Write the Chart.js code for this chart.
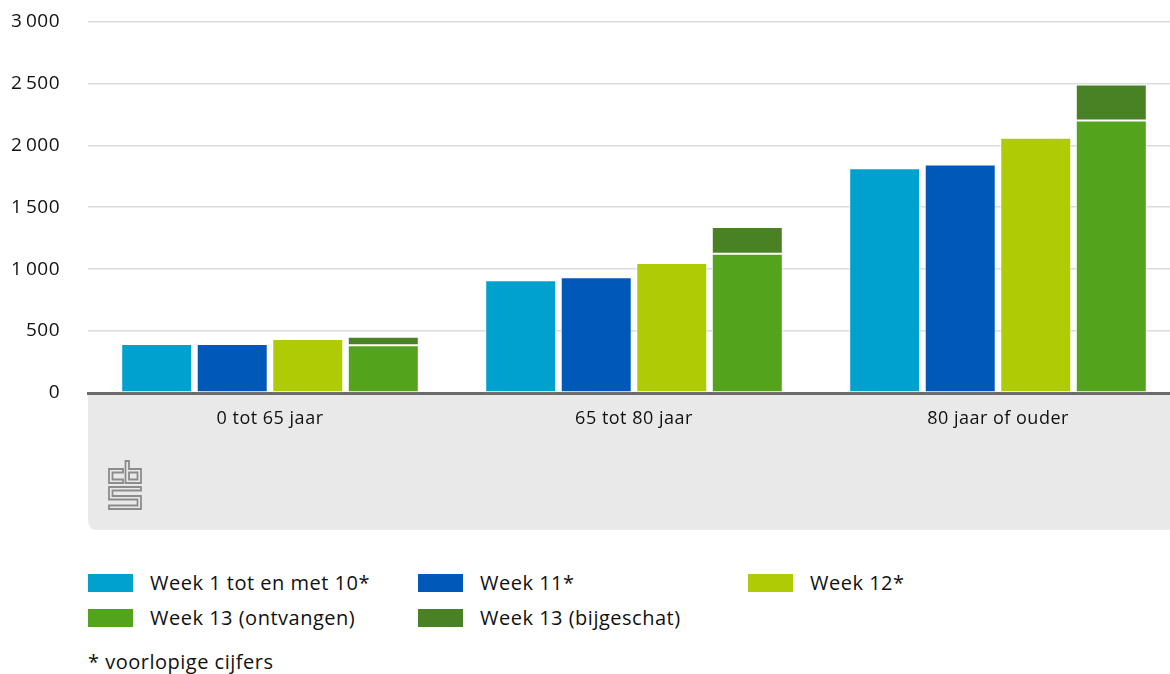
<!DOCTYPE html>
<html>
<head>
<meta charset="utf-8">
<script src="https://cdn.jsdelivr.net/npm/chart.js@4/dist/chart.umd.min.js"></script>
<style>
  html, body { margin: 0; padding: 0; background: #fff; overflow: hidden; }
  body { width: 1170px; height: 674px; position: relative; font-family: "Open Sans", sans-serif; font-weight: 500; color: #111; }
  #wrap { position: absolute; left: 0; top: -18px; width: 1180px; height: 553px; }
  #logo { position: absolute; left: 108px; top: 460px; }
  .leg { position: absolute; font-size: 20px; line-height: 24px; letter-spacing: 0.5px; white-space: nowrap; }
  .leg span.box { position: absolute; left: 0; top: 3px; width: 45px; height: 18px; }
  .leg span.txt { position: absolute; left: 62px; top: 0; }
  #note { position: absolute; left: 88px; top: 650px; font-size: 20px; line-height: 24px; letter-spacing: 0.5px; }
</style>
</head>
<body>
<div id="wrap"><canvas id="chart-area" width="1180" height="553"></canvas></div>
<svg id="logo" width="36" height="52" viewBox="0 0 36 52">
  <g fill="none" stroke="#8c8c8c" stroke-width="1.8" stroke-linejoin="miter">
    <path d="M15 9 H1 V23 H15 V19.5 H4.5 V12.5 H15 Z"/>
    <path d="M17.5 1 H21 V9 H33 V23 H17.5 Z"/>
    <path d="M21 12.5 H29.5 V19.5 H21 Z"/>
    <path d="M1 27 H33 V30.5 H4.5 V36 H33 V49 H1 V45.5 H29.5 V39.5 H1 Z"/>
  </g>
</svg>
<div id="legend"></div>
<div id="note">* voorlopige cijfers</div>
<script>
'use strict';

var categories = ['0 tot 65 jaar', '65 tot 80 jaar', '80 jaar of ouder'];
var seriesNames = ['Week 1 tot en met 10*', 'Week 11*', 'Week 12*', 'Week 13 (ontvangen)', 'Week 13 (bijgeschat)'];
var week1to10 = [395, 910, 1815];
var week11 = [395, 935, 1845];
var week12 = [435, 1050, 2060];
var week13Received = [385, 1125, 2200];
var week13Estimated = [70, 215, 290];
var yTicks = [0, 500, 1000, 1500, 2000, 2500, 3000];

var colors = ['#00a1cd', '#0058b8', '#afcb05', '#53a31d', '#488225'];
var stacks = ['a', 'b', 'c', 'd', 'd'];
var values = [week1to10, week11, week12, week13Received, week13Estimated];

var datasets = [];
values.forEach(function (v, i) {
  datasets.push({
    label: seriesNames[i],
    data: v,
    stack: stacks[i],
    backgroundColor: colors[i],
    borderColor: 'rgba(255,255,255,0.85)',
    borderWidth: 1,
    borderSkipped: false,
    categoryPercentage: 0.83,
    barPercentage: 0.94
  });
});

function spaced(n) {
  return String(n).replace(/\B(?=(\d{3})+(?!\d))/g, '\u2009');
}

// grey band under the x axis, drawn before everything else
var bandPlugin = {
  id: 'band',
  beforeDraw: function (chart) {
    var ctx = chart.ctx, a = chart.chartArea;
    var x0 = a.left, y0 = a.bottom, x1 = chart.width, y1 = a.bottom + 137, r = 10;
    ctx.letterSpacing = '0.5px';
    ctx.save();
    ctx.fillStyle = '#e9e9e9';
    ctx.beginPath();
    ctx.moveTo(x0, y0);
    ctx.lineTo(x1, y0);
    ctx.lineTo(x1, y1);
    ctx.lineTo(x0 + r, y1);
    ctx.quadraticCurveTo(x0, y1, x0, y1 - r);
    ctx.closePath();
    ctx.fill();
    ctx.restore();
  }
};

var config = {
  type: 'bar',
  data: { labels: categories, datasets: datasets },
  plugins: [bandPlugin],
  options: {
    responsive: false,
    animation: false,
    layout: { padding: { top: 0, left: 0, right: 0, bottom: 0 } },
    plugins: { legend: { display: false }, tooltip: { enabled: false } },
    scales: {
      x: {
        stacked: true,
        grid: { color: 'rgba(0,0,0,0)', drawTicks: false },
        border: { display: true, color: '#6b6b6b', width: 3 },
        ticks: { color: '#111', padding: 15, font: { family: 'Open Sans', size: 18, weight: '500' } },
        afterFit: function (s) { s.height = 142; }
      },
      y: {
        stacked: true,
        min: 0,
        max: 3000,
        afterBuildTicks: function (s) { s.ticks = yTicks.map(function (v) { return { value: v }; }); },
        grid: {
          drawTicks: false,
          color: function (c) { return c.tick && c.tick.value === 0 ? 'rgba(0,0,0,0)' : '#dcdcdc'; },
          lineWidth: 1.5
        },
        border: { display: false },
        ticks: {
          color: '#111',
          padding: 28,
          font: { family: 'Open Sans', size: 19, weight: '500' },
          callback: function (v) { return spaced(v); }
        },
        afterFit: function (s) { s.width = 88; }
      }
    }
  }
};

window.onload = function () {
  var ctx = document.getElementById('chart-area').getContext('2d');
  window.myBar = new Chart(ctx, config);

  // legend in three columns, two rows
  var legend = document.getElementById('legend');
  var cols = [88, 418, 748];
  var rows = [571, 606];
  seriesNames.forEach(function (name, i) {
    var d = document.createElement('div');
    d.className = 'leg';
    d.style.left = cols[i % 3] + 'px';
    d.style.top = rows[Math.floor(i / 3)] + 'px';
    d.innerHTML = '<span class="box" style="background:' + colors[i] + '"></span><span class="txt">' + name + '</span>';
    legend.appendChild(d);
  });
};
</script>
</body>
</html>
